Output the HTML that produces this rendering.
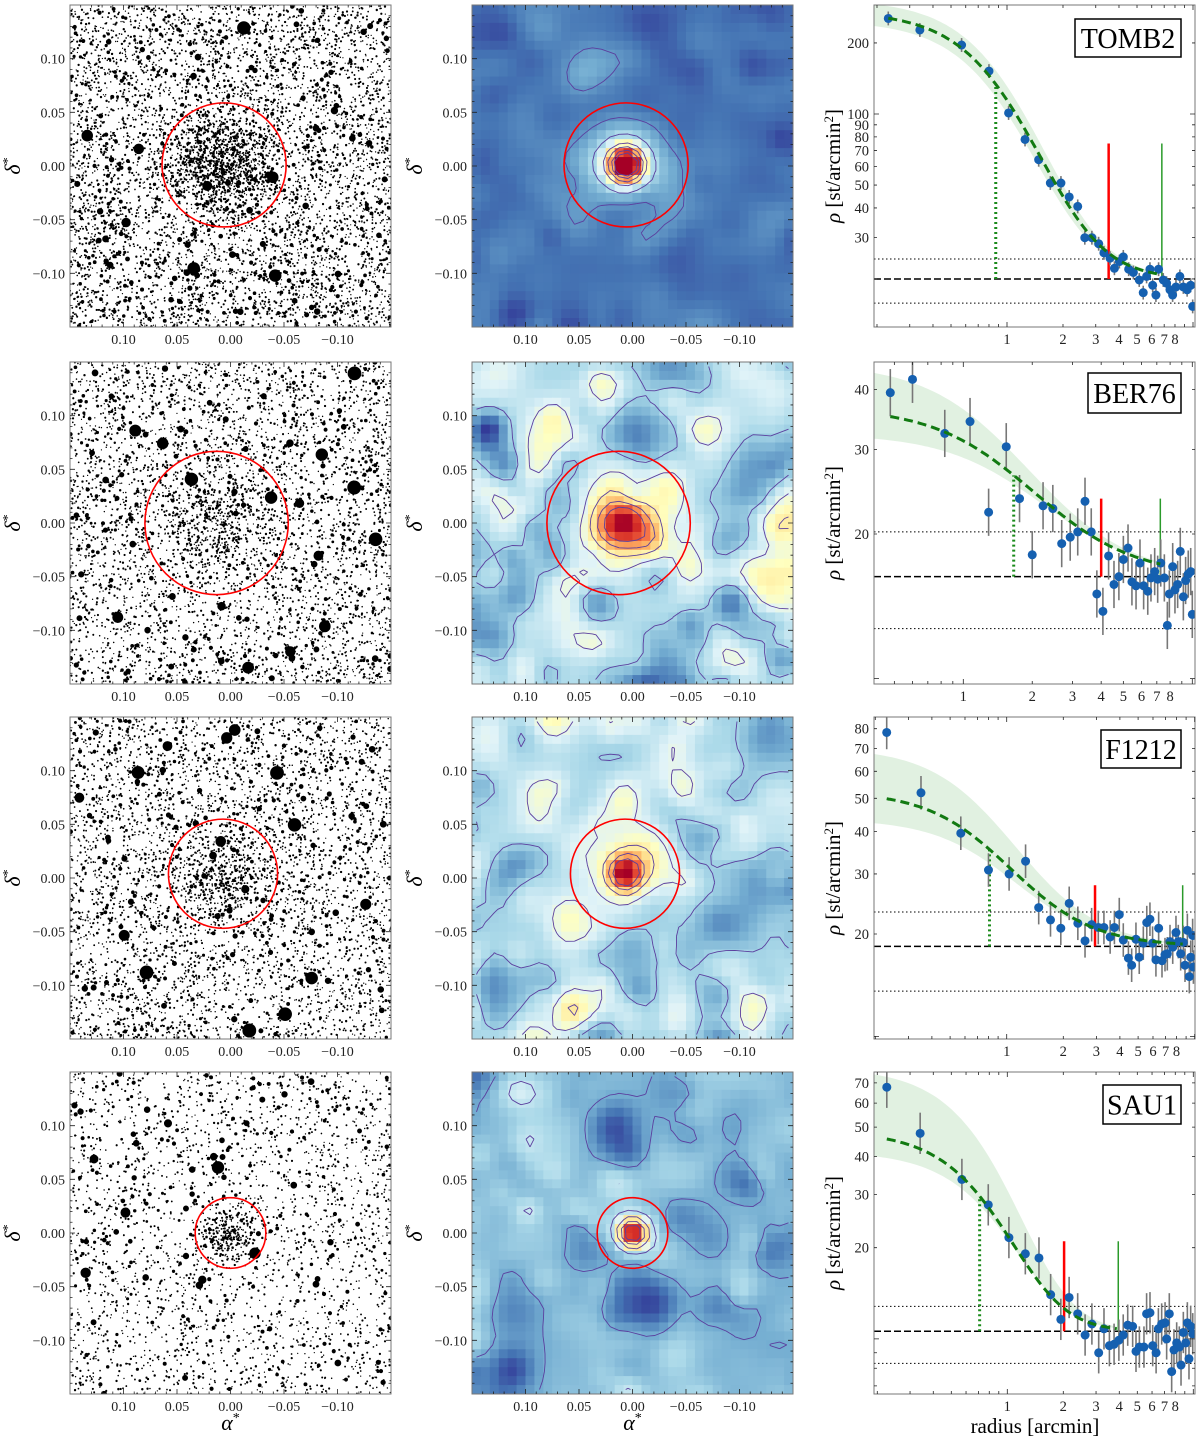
<!DOCTYPE html>
<html><head><meta charset="utf-8">
<style>
html,body{margin:0;padding:0;background:#fff;}
svg{display:block;font-family:"Liberation Serif",serif;}
</style></head>
<body>
<svg id="fig" width="1200" height="1444" viewBox="0 0 1200 1444" xmlns="http://www.w3.org/2000/svg"></svg>
<script>
// ---------------- profile data (radius in arcmin, density in st/arcmin^2) ----------------
const tomb2Radius=[0.23,0.34,0.57,0.80,1.02,1.25,1.48,1.71,1.95,2.16,2.40,2.62,2.86,3.11,3.32,3.58,3.78,4.02,4.22,4.51,4.78,5.14,5.4,5.63,5.87,6.07,6.32,6.53,6.92,7.21,7.52,7.77,8.1,8.5,8.87,9.3,9.72,9.96];
const tomb2Density=[254,227,196,152,101,78,64,51,51,44.5,40.6,29.9,29.9,28.2,25.8,24.5,22.2,23.7,24.8,22,21.3,19.8,17.5,20.5,22,18.8,17.1,22,19.8,19.2,18,17.1,18.5,20.5,18.5,18,18.8,15.3];
const ber76Radius=[0.48,0.60,0.83,1.07,1.29,1.54,1.76,2.0,2.23,2.46,2.69,2.93,3.16,3.4,3.62,3.83,4.07,4.31,4.55,4.78,5.0,5.24,5.45,5.68,5.91,6.13,6.39,6.6,6.85,7.06,7.28,7.55,7.78,7.94,8.21,8.4,8.63,8.86,9.14,9.35,9.6,9.84,10];
const ber76Density=[39.4,42,32.4,34.3,22.2,30.4,23.7,18.1,22.9,22.6,19.1,19.7,20.2,23.4,20.2,15,13.8,18,15.7,16.3,17.7,18.7,15.9,15.6,17.4,15.6,15.2,16.2,16.7,16.1,17.4,16.2,12.9,15,17.1,15.3,15.7,18.4,14.8,16,16.5,16.7,13.6];
const f1212Radius=[0.23,0.35,0.57,0.80,1.03,1.26,1.48,1.71,1.94,2.15,2.39,2.61,2.83,3.07,3.29,3.55,3.74,3.97,4.17,4.44,4.62,4.87,5.07,5.33,5.56,5.78,5.97,6.22,6.43,6.7,6.95,7.15,7.39,7.64,7.95,8.18,8.42,8.7,8.88,9.14,9.36,9.52,9.75,9.84];
const f1212Density=[78,51.9,39.5,30.8,30,32.7,23.9,22,20.8,24.6,21.5,19.1,21.3,20.9,20.9,19.6,20.9,22.8,19.2,17,16.2,19.3,17.1,18.8,21.6,22.1,18.8,16.8,20.8,16.7,17.4,17.5,19,18.3,20.2,19,17.5,18.9,16.2,20.5,15,17.1,19.8,16];
const sau1Radius=[0.225,0.34,0.57,0.79,1.02,1.25,1.48,1.71,1.94,2.15,2.39,2.62,2.85,3.1,3.31,3.54,3.75,3.98,4.2,4.44,4.72,4.92,5.13,5.43,5.61,5.85,6.05,6.31,6.49,6.76,7.05,7.19,7.43,7.65,7.87,8.14,8.41,8.59,8.84,9.1,9.29,9.48,9.68,9.93];
const sau1Density=[67.7,47.7,33.6,27.7,21.6,19.1,18.5,14,11.6,13.7,12.1,10.3,11.2,9,10.8,9.5,9.6,9.9,10.3,11.1,11,9.1,9.4,9.4,12.1,12.2,9.5,9,10.8,11.2,11.3,10,12.1,7.8,9.2,9.7,9.4,8.2,10.5,9.7,11.3,8.6,11,10.4];
// fit: [background, central density, scale radius, exponent]
const tomb2Fit=[20,252,1.04,1.5], ber76Fit=[16.3,20.4,1.66,1], f1212Fit=[18.4,34,0.81,1], sau1Fit=[10.6,38.1,1.1,2];
const tomb2Core=0.87, ber76Core=1.66, f1212Core=0.81, sau1Core=0.71;
const tomb2BandHi=[285,1.07], tomb2BandLo=[228,1.0];
const ber76BandHi=[29,1.5], ber76BandLo=[16,1.9];
const f1212BandHi=[52,0.8], f1212BandLo=[25,0.9];
const sau1BandHi=[68,1.1], sau1BandLo=[31,1.2];
const tomb2Sigma=[24.3,15.8], ber76Sigma=[20.2,12.7], f1212Sigma=[23.2,13.6], sau1Sigma=[12.8,8.3];
// [red radius, green radius, marker top density]
const tomb2Limits=[3.52,6.8,75], ber76Limits=[4.0,7.25,23.7], f1212Limits=[2.95,8.63,27.8], sau1Limits=[2.02,3.95,21];
const tomb2ErrFrac=0.07, ber76ErrFrac=0.12, f1212ErrFrac=0.12, sau1ErrFrac=0.17;
const tomb2YTicks=[20,30,40,50,60,70,80,90,100,200], tomb2YLabels=[30,40,50,60,70,80,90,100,200];
const ber76YTicks=[10,20,30,40], ber76YLabels=[20,30,40];
const f1212YTicks=[10,20,30,40,50,60,70,80], f1212YLabels=[20,30,40,50,60,70,80];
const sau1YTicks=[7,8,9,10,20,30,40,50,60,70], sau1YLabels=[20,30,40,50,60,70];
const xMinorTicks=[0.2,0.3,0.4,0.5,0.6,0.7,0.8,0.9,1,2,3,4,5,6,7,8,9,10];
const xTickLabels=[1,2,3,4,5,6,7,8];
const mapTicks=[0.10,0.05,0.00,-0.05,-0.10];
const mapTickLabels=["0.10","0.05","0.00","\u22120.05","\u22120.10"];
// cluster centres [alpha, delta] and circle radius (deg)
const clusterCentre=[[0.006,0.001],[0.013,0.000],[0.007,0.004],[0.000,0.000]];
const clusterRadius=[0.058,0.067,0.051,0.033];

const NS="http://www.w3.org/2000/svg";
const svg=document.getElementById('fig');
function el(tag,attrs,parent){const e=document.createElementNS(NS,tag);for(const k in attrs)e.setAttribute(k,attrs[k]);(parent||svg).appendChild(e);return e;}
function txt(s,attrs,parent){const t=el('text',attrs,parent);t.textContent=s;return t;}
function rng(a){return function(){a|=0;a=a+0x6D2B79F5|0;let t=Math.imul(a^a>>>15,1|a);t=t+Math.imul(t^t>>>7,61|t)^t;return((t^t>>>14)>>>0)/4294967296;}}
function gauss(R){let u=R()||1e-9,v=R();return Math.sqrt(-2*Math.log(u))*Math.cos(2*Math.PI*v);}

const rowTops=[5,362,717,1072];
const PH=322, MW=321;
const colLeft=[70,472];

function mapAxes(g,L,T,row){
  const sx=a=>L+(0.15-a)/0.3*MW, sy=d=>T+(0.15-d)/0.3*PH;
  const ax=el('g',{},g);
  
  
  el('rect',{x:L,y:T,width:MW,height:PH,fill:'none',stroke:'#777','stroke-width':1},ax);
  let d='';
  for(let k=-14;k<=14;k++){const v=k/100;const major=(k%5===0);const len=major?5:2.5;
    const x=sx(v),y=sy(v);
    d+=`M${x} ${T+PH}v${-len}M${x} ${T}v${len}M${L} ${y}h${len}M${L+MW} ${y}h${-len}`;}
  el('path',{d:d,stroke:'#222','stroke-width':0.8,fill:'none'},ax);
  mapTicks.forEach((v,i)=>{
    const xl=txt(mapTickLabels[i],{x:sx(v),y:T+PH+17,'font-size':14,'text-anchor':'middle',fill:'#222'},ax);
    
    
    const yl=txt(mapTickLabels[i],{x:L-5,y:sy(v)+5,'font-size':14,'text-anchor':'end',fill:'#222'},ax);
    
    
  });
  const yt=el('text',{x:0,y:0,'font-size':22,'font-style':'italic','text-anchor':'middle',transform:`translate(${L-50},${T+PH/2}) rotate(-90)`},ax);
  yt.innerHTML='δ<tspan dy="-8" font-size="14" font-style="normal">*</tspan>';
  
  
  if(row===3){
    const xt=el('text',{x:L+MW/2,y:T+PH+36,'font-size':22,'font-style':'italic','text-anchor':'middle'},ax);
    xt.innerHTML='α<tspan dy="-8" font-size="14" font-style="normal">*</tspan>';
    
    
  }
}

// ---------- star field ----------
const starParams=[[5600,900,9],[4200,380,16],[4300,320,16],[2600,260,9]];
function starField(row){
  const L=colLeft[0],T=rowTops[row];
  const g=el('g',{});
  
  
  const cid='clipS'+row;
  const cp=el('clipPath',{id:cid},g);el('rect',{x:L,y:T,width:MW,height:PH},cp);
  const sx=a=>L+(0.15-a)/0.3*MW, sy=d=>T+(0.15-d)/0.3*PH;
  const R=rng(101+row*17);
  const [nField,nClus,nBig]=starParams[row];
  let d='';
  const dot=(x,y,r)=>{d+=`M${(x-r).toFixed(1)} ${y.toFixed(1)}a${r} ${r} 0 1 0 ${(2*r).toFixed(2)} 0a${r} ${r} 0 1 0 ${(-2*r).toFixed(2)} 0`;};
  for(let i=0;i<nField;i++){
    const x=L+R()*MW,y=T+R()*PH,u=R();
    const r=u<0.9?0.6+R()*0.6:u<0.985?1.3+R()*0.8:2.2+R()*1.2;
    dot(x,y,r);
  }
  const c=clusterCentre[row],cr=clusterRadius[row];
  for(let i=0;i<nClus;i++){
    const a=c[0]+gauss(R)*cr*0.42,dd=c[1]+gauss(R)*cr*0.42;
    dot(sx(a),sy(dd),0.6+R()*0.7);
  }
  for(let i=0;i<nBig;i++){dot(L+8+R()*(MW-16),T+8+R()*(PH-16),3.5+R()*3.5);}
  el('path',{d:d,fill:'#000','clip-path':`url(#${cid})`},g);
  const circ=el('circle',{cx:sx(c[0]),cy:sy(c[1]),r:cr/0.3*MW,fill:'none',stroke:'#f00','stroke-width':1.6},g);
  
  
  mapAxes(g,L,T,row);
}

// ---------- density map ----------
const cmapStops=['#313695','#4575b4','#74add1','#abd9e9','#e0f3f8','#ffffbf','#fee090','#fdae61','#f46d43','#d73027','#a50026'];
function hex2(c){return [parseInt(c.slice(1,3),16),parseInt(c.slice(3,5),16),parseInt(c.slice(5,7),16)];}
function cmap(v){v=Math.max(0,Math.min(1,v));const p=v*10,i=Math.min(9,Math.floor(p)),f=p-i;
  const a=hex2(cmapStops[i]),b=hex2(cmapStops[i+1]);return `rgb(${Math.round(a[0]+(b[0]-a[0])*f)},${Math.round(a[1]+(b[1]-a[1])*f)},${Math.round(a[2]+(b[2]-a[2])*f)})`;}
// [base, noise amplitude, peak, peak sigma, halo amp, halo sigma]
const mapParams=[[0.10,0.04,0.92,0.011,0.2,0.03],[0.33,0.13,0.5,0.016,0.18,0.034],[0.32,0.11,0.56,0.011,0.14,0.03],[0.23,0.08,0.76,0.010,0.1,0.02]];
const contourLevels=[[0.16,0.3,0.5,0.65,0.8,0.92],[0.28,0.42,0.55,0.68,0.8],[0.28,0.42,0.55,0.68,0.8],[0.2,0.34,0.5,0.65,0.8]];
function densityMap(row){
  const L=colLeft[1],T=rowTops[row],N=36;
  const g=el('g',{});
  
  
  const cid='clipM'+row;
  const cp=el('clipPath',{id:cid},g);el('rect',{x:L,y:T,width:MW,height:PH},cp);
  const R=rng(777+row*31);
  const blobs=[];for(let i=0;i<260;i++)blobs.push([-0.17+R()*0.34,-0.17+R()*0.34,0.009+R()*0.009,(R()*2-1)]);
  const [base,nA,pk,ps,ha,hs]=mapParams[row];const c=clusterCentre[row];
  const f=(a,d)=>{let n=0;for(const b of blobs){const q=((a-b[0])**2+(d-b[1])**2)/(2*b[2]*b[2]);if(q<9)n+=b[3]*Math.exp(-q);}
    const r2=(a-c[0])**2+(d-c[1])**2;return base+nA*n+pk*Math.exp(-r2/(2*ps*ps))+ha*Math.exp(-r2/(2*hs*hs));};
  const cw=MW/N,ch=PH/N;const V=[];
  const cells=el('g',{'clip-path':`url(#${cid})`},g);
  for(let j=0;j<N;j++){V.push([]);for(let i=0;i<N;i++){
    const a=0.15-(i+0.5)/N*0.3,d=0.15-(j+0.5)/N*0.3;const v=f(a,d);V[j].push(v);
    el('rect',{x:(L+i*cw).toFixed(2),y:(T+j*ch).toFixed(2),width:(cw+0.6).toFixed(2),height:(ch+0.6).toFixed(2),fill:cmap(v)},cells);}}
  let pd='';
  const px=i=>L+(i+0.5)*cw,py=j=>T+(j+0.5)*ch;
  for(const lv of contourLevels[row]){
    for(let j=0;j<N-1;j++)for(let i=0;i<N-1;i++){
      const v0=V[j][i],v1=V[j][i+1],v2=V[j+1][i+1],v3=V[j+1][i];const pts=[];
      const e=(va,vb,xa,ya,xb,yb)=>{if((va-lv)*(vb-lv)<0){const t=(lv-va)/(vb-va);pts.push([xa+(xb-xa)*t,ya+(yb-ya)*t]);}};
      e(v0,v1,px(i),py(j),px(i+1),py(j));e(v1,v2,px(i+1),py(j),px(i+1),py(j+1));
      e(v2,v3,px(i+1),py(j+1),px(i),py(j+1));e(v3,v0,px(i),py(j+1),px(i),py(j));
      for(let k=0;k+1<pts.length;k+=2)pd+=`M${pts[k][0].toFixed(1)} ${pts[k][1].toFixed(1)}L${pts[k+1][0].toFixed(1)} ${pts[k+1][1].toFixed(1)}`;
    }}
  const cont=el('path',{d:pd,stroke:'#5b3f9e','stroke-width':0.9,fill:'none','clip-path':`url(#${cid})`},g);
  
  
  const sx=a=>L+(0.15-a)/0.3*MW, sy=d=>T+(0.15-d)/0.3*PH;
  const circ=el('circle',{cx:sx(c[0]),cy:sy(c[1]),r:clusterRadius[row]/0.3*MW,fill:'none',stroke:'#f00','stroke-width':1.6},g);
  
  
  mapAxes(g,L,T,row);
}

// ---------- radial profile ----------
const profCfg=[
 {name:'TOMB2',r:tomb2Radius,rho:tomb2Density,fit:tomb2Fit,core:tomb2Core,hi:tomb2BandHi,lo:tomb2BandLo,sig:tomb2Sigma,lim:tomb2Limits,err:tomb2ErrFrac,yt:tomb2YTicks,yl:tomb2YLabels,x1:1007,xd:186,yv:100,yp:114,yd:236,box:[1075,19,106,38]},
 {name:'BER76',r:ber76Radius,rho:ber76Density,fit:ber76Fit,core:ber76Core,hi:ber76BandHi,lo:ber76BandLo,sig:ber76Sigma,lim:ber76Limits,err:ber76ErrFrac,yt:ber76YTicks,yl:ber76YLabels,x1:963.3,xd:229,yv:20,yp:534,yd:480,box:[1088,373,93,40]},
 {name:'F1212',r:f1212Radius,rho:f1212Density,fit:f1212Fit,core:f1212Core,hi:f1212BandHi,lo:f1212BandLo,sig:f1212Sigma,lim:f1212Limits,err:f1212ErrFrac,yt:f1212YTicks,yl:f1212YLabels,x1:1006.7,xd:188,yv:20,yp:934,yd:341,box:[1101,730,80,38]},
 {name:'SAU1',r:sau1Radius,rho:sau1Density,fit:sau1Fit,core:sau1Core,hi:sau1BandHi,lo:sau1BandLo,sig:sau1Sigma,lim:sau1Limits,err:sau1ErrFrac,yt:sau1YTicks,yl:sau1YLabels,x1:1007.3,xd:186,yv:20,yp:1247.7,yd:303,box:[1103,1085,78,39]}
];
function profile(row){
  const C=profCfg[row];const L=874,Rt=1195,T=rowTops[row],B=T+PH;
  const X=r=>C.x1+Math.log10(r)*C.xd, Y=v=>C.yp-Math.log10(v/C.yv)*C.yd;
  const rAt=x=>Math.pow(10,(x-C.x1)/C.xd);
  const k=C.fit[3];
  const king=(p0,rc,r)=>C.fit[0]+p0/Math.pow(1+(r/rc)**2,k);
  const g=el('g',{});
  
  
  const cid='clipP'+row;const cp=el('clipPath',{id:cid},g);el('rect',{x:L,y:T,width:Rt-L,height:PH},cp);
  const inner=el('g',{'clip-path':`url(#${cid})`},g);
  const rG=C.lim[1];let up=[],dn=[];
  for(let x=L;x<=X(rG);x+=3){const r=rAt(x);up.push(`${x.toFixed(1)},${Y(king(C.hi[0],C.hi[1],r)).toFixed(1)}`);dn.unshift(`${x.toFixed(1)},${Y(king(C.lo[0],C.lo[1],r)).toFixed(1)}`);}
  const band=el('polygon',{points:up.concat(dn).join(' '),fill:'#dcefdc',opacity:0.85},inner);
  
  
  const s1=el('line',{x1:L,x2:Rt,y1:Y(C.sig[0]),y2:Y(C.sig[0]),stroke:'#000','stroke-width':1,'stroke-dasharray':'1.5 2.5'},inner);
  
  
  const s2=el('line',{x1:L,x2:Rt,y1:Y(C.sig[1]),y2:Y(C.sig[1]),stroke:'#000','stroke-width':1,'stroke-dasharray':'1.5 2.5'},inner);
  
  
  const bgl=el('line',{x1:L,x2:Rt,y1:Y(C.fit[0]),y2:Y(C.fit[0]),stroke:'#000','stroke-width':1.5,'stroke-dasharray':'7 3'},inner);
  
  
  const rc=C.core;
  const cl=el('line',{x1:X(rc),x2:X(rc),y1:Y(C.fit[0]),y2:Y(king(C.fit[1],C.fit[2],rc)),stroke:'#1b8a1b','stroke-width':3,'stroke-dasharray':'2 3'},inner);
  
  
  const rl=el('line',{x1:X(C.lim[0]),x2:X(C.lim[0]),y1:Y(C.fit[0]),y2:Y(C.lim[2]),stroke:'#f00','stroke-width':2.5},inner);
  
  
  const gl=el('line',{x1:X(C.lim[1]),x2:X(C.lim[1]),y1:Y(C.fit[0]),y2:Y(C.lim[2]),stroke:'#2a9a2a','stroke-width':1.5},inner);
  
  
  const eg=el('g',{},inner);
  C.r.forEach((r,i)=>{const v=C.rho[i];
    const eb=el('line',{x1:X(r),x2:X(r),y1:Y(v*(1+C.err)),y2:Y(v/(1+C.err)),stroke:'#777','stroke-width':1.6},eg);
    
    });
  C.r.forEach((r,i)=>{
    const p=el('circle',{cx:X(r),cy:Y(C.rho[i]),r:4.5,fill:'#1560b0'},eg);
    
    });
  let fp='';for(let x=X(C.r[0]);x<=X(rG)+0.1;x+=2){fp+=(fp?'L':'M')+x.toFixed(1)+' '+Y(king(C.fit[1],C.fit[2],rAt(x))).toFixed(1);}
  const fc=el('path',{d:fp,stroke:'#127a12','stroke-width':3,fill:'none','stroke-dasharray':'9 5'},inner);
  
  
  el('rect',{x:L,y:T,width:Rt-L,height:PH,fill:'none',stroke:'#777','stroke-width':1},g);
  let td='';
  xMinorTicks.forEach(v=>{const x=X(v);if(x<L||x>Rt)return;const len=(v===1||v===10)?5:3;td+=`M${x} ${B}v${-len}M${x} ${T}v${len}`;});
  C.yt.forEach(v=>{const y=Y(v);if(y<T||y>B)return;const len=(v===10||v===100)?5:3;td+=`M${L} ${y}h${len}M${Rt} ${y}h${-len}`;});
  el('path',{d:td,stroke:'#222','stroke-width':0.8,fill:'none'},g);
  xTickLabels.forEach(v=>{const t=txt(String(v),{x:X(v),y:B+17,'font-size':14.5,'text-anchor':'middle',fill:'#222'},g);
    
    });
  C.yl.forEach(v=>{const t=txt(String(v),{x:L-5,y:Y(v)+5,'font-size':14.5,'text-anchor':'end',fill:'#222'},g);
    
    });
  const yt=el('text',{x:0,y:0,'font-size':21,'text-anchor':'middle',transform:`translate(840,${T+PH/2}) rotate(-90)`},g);
  yt.innerHTML='<tspan font-style="italic">ρ</tspan> [st/arcmin<tspan dy="-7" font-size="13">2</tspan><tspan dy="7">]</tspan>';
  
  
  const [bx,by,bw,bh]=C.box;
  const lg=el('g',{},g);
  
  
  el('rect',{x:bx,y:by,width:bw,height:bh,fill:'#fff',stroke:'#000','stroke-width':1.5},lg);
  txt(C.name,{x:bx+bw/2,y:by+bh/2+10,'font-size':28,'text-anchor':'middle'},lg);
  if(row===3){const xt=txt('radius [arcmin]',{x:1035,y:1433,'font-size':21,'text-anchor':'middle'},g);
    
    }
}

for(let row=0;row<4;row++){starField(row);densityMap(row);profile(row);}
</script>
</body></html>
